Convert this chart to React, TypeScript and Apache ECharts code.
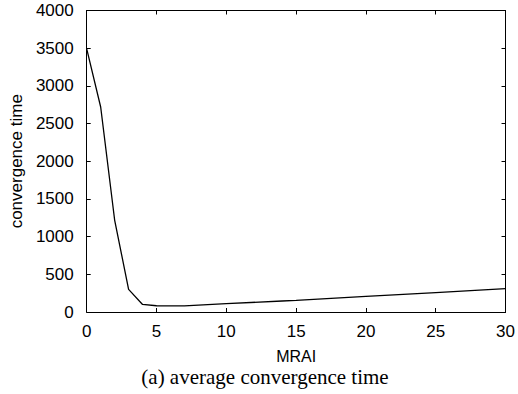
import React, { useEffect, useRef } from "react";
import * as echarts from "echarts";

const mraiValues = [0, 1, 2, 3, 4, 5, 7, 10, 14, 15, 20, 25, 30];
const convergenceTimes = [3490, 2720, 1220, 300, 100, 83, 80, 110, 146, 155, 208, 257, 310];
const xTicks = [0, 5, 10, 15, 20, 25, 30];
const yTicks = [0, 500, 1000, 1500, 2000, 2500, 3000, 3500, 4000];
const caption = "(a) average convergence time";

export default function App() {
  const ref = useRef<HTMLDivElement>(null);
  useEffect(() => {
    document.body.style.margin = "0";
    if (!ref.current) return;
    const chart = echarts.init(ref.current, undefined, { renderer: "svg" });
    const sans = "Liberation Sans";
    const lineStyle = { color: "#000", width: 1 };
    const xInterval = xTicks[1] - xTicks[0];
    const yInterval = yTicks[1] - yTicks[0];
    const plain = (v: number) => String(v);
    chart.setOption({
      animation: false,
      backgroundColor: "#fff",
      grid: { left: 86, right: 10, top: 10.5, bottom: 82, containLabel: false },
      xAxis: [
        {
          type: "value",
          min: xTicks[0],
          max: xTicks[xTicks.length - 1],
          interval: xInterval,
          name: "MRAI",
          nameLocation: "middle",
          nameGap: 37,
          nameTextStyle: { color: "#000", fontFamily: sans, fontSize: 16, lineHeight: 14 },
          axisLine: { show: true, onZero: false, lineStyle },
          axisTick: { show: true, inside: true, length: 4, lineStyle },
          axisLabel: { color: "#000", fontFamily: sans, fontSize: 17, margin: 11, formatter: plain },
          splitLine: { show: false },
        },
        {
          type: "value",
          position: "top",
          min: xTicks[0],
          max: xTicks[xTicks.length - 1],
          interval: xInterval,
          axisLine: { show: true, onZero: false, lineStyle },
          axisTick: { show: true, inside: true, length: 4, lineStyle },
          axisLabel: { show: false },
          splitLine: { show: false },
        },
      ],
      yAxis: [
        {
          type: "value",
          min: yTicks[0],
          max: yTicks[yTicks.length - 1],
          interval: yInterval,
          name: "convergence time",
          nameLocation: "middle",
          nameGap: 59,
          nameTextStyle: { color: "#000", fontFamily: sans, fontSize: 17 },
          axisLine: { show: true, onZero: false, lineStyle },
          axisTick: { show: true, inside: true, length: 4, lineStyle },
          axisLabel: { color: "#000", fontFamily: sans, fontSize: 17, margin: 13, formatter: plain },
          splitLine: { show: false },
        },
        {
          type: "value",
          position: "right",
          min: yTicks[0],
          max: yTicks[yTicks.length - 1],
          interval: yInterval,
          axisLine: { show: true, onZero: false, lineStyle },
          axisTick: { show: true, inside: true, length: 4, lineStyle },
          axisLabel: { show: false },
          splitLine: { show: false },
        },
      ],
      graphic: [
        {
          type: "text",
          x: 265,
          y: 377,
          style: {
            text: caption,
            fill: "#000",
            font: "21px 'Liberation Serif'",
            lineHeight: 15,
            textAlign: "center",
            textVerticalAlign: "middle",
          },
        },
      ],
      series: [
        {
          type: "line",
          xAxisIndex: 0,
          yAxisIndex: 0,
          data: mraiValues.map((x, i) => [x, convergenceTimes[i]]),
          showSymbol: false,
          symbol: "none",
          lineStyle: { color: "#000", width: 1.3 },
        },
      ],
    });
    return () => chart.dispose();
  }, []);
  return <div ref={ref} style={{ width: 518, height: 394 }} />;
}
